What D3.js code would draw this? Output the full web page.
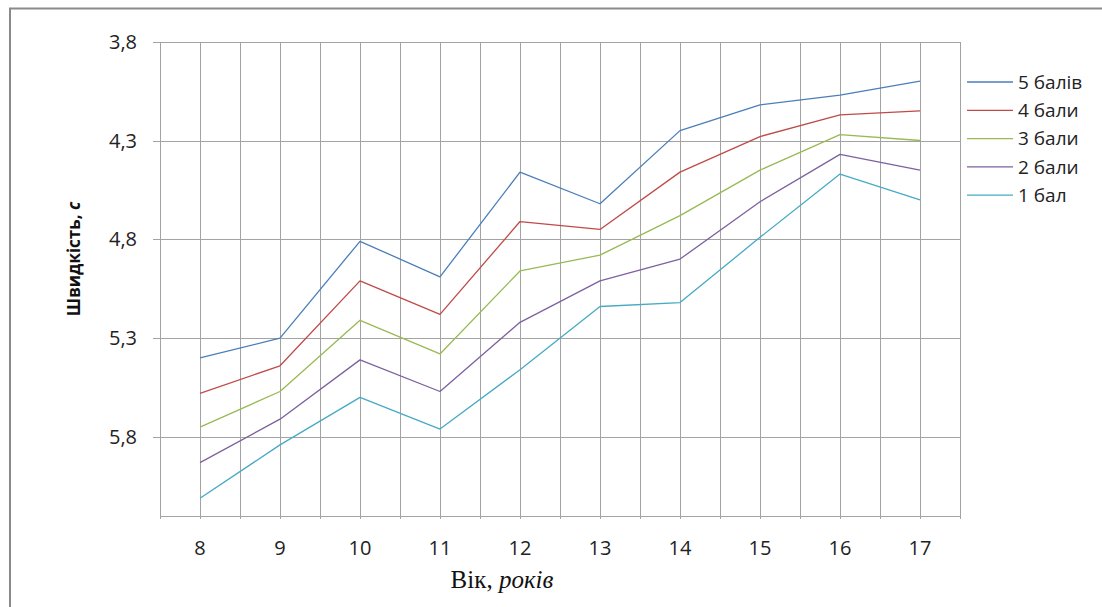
<!DOCTYPE html>
<html>
<head>
<meta charset="utf-8">
<script src="https://cdn.jsdelivr.net/npm/d3@7/dist/d3.min.js"></script>
<style>
  html, body { margin: 0; padding: 0; background: #fff; }
  svg { display: block; }
</style>
</head>
<body>
<svg id="chart" width="1102" height="607"></svg>
<script>
// Age groups (years)
const ages = ["8", "9", "10", "11", "12", "13", "14", "15", "16", "17"];

// Running time (s) by score level
const score5 = [5.40, 5.30, 4.81, 4.99, 4.46, 4.62, 4.25, 4.12, 4.07, 4.00];
const score4 = [5.58, 5.44, 5.01, 5.18, 4.71, 4.75, 4.46, 4.28, 4.17, 4.15];
const score3 = [5.75, 5.57, 5.21, 5.38, 4.96, 4.88, 4.68, 4.45, 4.27, 4.30];
const score2 = [5.93, 5.71, 5.41, 5.57, 5.22, 5.01, 4.90, 4.61, 4.37, 4.45];
const score1 = [6.11, 5.84, 5.60, 5.76, 5.46, 5.14, 5.12, 4.79, 4.47, 4.60];

const seriesNames = ["5 балів", "4 бали", "3 бали", "2 бали", "1 бал"];
const seriesColors = ["#4A7EBB", "#BE4B48", "#98B954", "#7D60A0", "#46AAC5"];

// Y axis (reversed: faster times on top)
const yMin = 3.8, yMax = 6.2;
const yTicks = [3.8, 4.3, 4.8, 5.3, 5.8];

const series = [score5, score4, score3, score2, score1].map((vals, i) => ({
  name: seriesNames[i],
  color: seriesColors[i],
  values: vals
}));

const svg = d3.select("#chart");
const plot = { left: 160, right: 960, top: 41.7, bottom: 516 };
const gridColor = "#a3a3a3";

// Outer chart frame
svg.append("rect")
  .attr("x", 10).attr("y", 8.5)
  .attr("width", 1200).attr("height", 700)
  .attr("fill", "#fff")
  .attr("stroke", "#8a8a8a")
  .attr("stroke-width", 2);

const x = d3.scaleBand().domain(ages).range([plot.left, plot.right]).paddingInner(0).paddingOuter(0);
const xc = d => x(d) + x.bandwidth() / 2;
const y = d3.scaleLinear().domain([yMin, yMax]).range([plot.top, plot.bottom]);

const fmt = d3.formatLocale({ decimal: ",", thousands: " ", grouping: [3], currency: ["", ""] }).format(".1f");

// Vertical gridlines: category boundaries and centres
const vLines = [];
ages.forEach(a => { vLines.push(x(a)); vLines.push(xc(a)); });
vLines.push(plot.right);

const grid = svg.append("g").attr("shape-rendering", "crispEdges");
grid.selectAll("line.v").data(vLines).join("line")
  .attr("class", "v")
  .attr("x1", d => Math.round(d) + 0.5).attr("x2", d => Math.round(d) + 0.5)
  .attr("y1", plot.top).attr("y2", plot.bottom + 3)
  .attr("stroke", gridColor).attr("stroke-width", 1);

// Horizontal gridlines with outer ticks
grid.selectAll("line.h").data(yTicks).join("line")
  .attr("class", "h")
  .attr("x1", plot.left - 7).attr("x2", plot.right)
  .attr("y1", d => Math.round(y(d)) + 0.5).attr("y2", d => Math.round(y(d)) + 0.5)
  .attr("stroke", gridColor).attr("stroke-width", 1);

// Bottom axis line
grid.append("line")
  .attr("x1", plot.left).attr("x2", plot.right)
  .attr("y1", Math.round(plot.bottom) + 0.5).attr("y2", Math.round(plot.bottom) + 0.5)
  .attr("stroke", gridColor).attr("stroke-width", 1.3);

// Y tick labels
svg.append("g").selectAll("text").data(yTicks).join("text")
  .attr("x", 137).attr("y", d => y(d))
  .attr("dy", "0.35em")
  .attr("text-anchor", "end")
  .attr("font-family", "Open Sans, sans-serif")
  .attr("font-size", 20)
  .attr("fill", "#222")
  .text(d => fmt(d));

// X tick labels
svg.append("g").selectAll("text").data(ages).join("text")
  .attr("x", d => xc(d)).attr("y", 555)
  .attr("text-anchor", "middle")
  .attr("font-family", "Open Sans, sans-serif")
  .attr("font-size", 20)
  .attr("fill", "#222")
  .text(d => d);

// Series lines
const line = d3.line().x((d, i) => xc(ages[i])).y(d => y(d));
svg.append("g").selectAll("path").data(series).join("path")
  .attr("d", s => line(s.values))
  .attr("fill", "none")
  .attr("stroke", s => s.color)
  .attr("stroke-width", 1.3)
  .attr("stroke-linejoin", "round");

// Legend
const legend = svg.append("g").selectAll("g").data(series).join("g")
  .attr("transform", (s, i) => `translate(967, ${82 + i * 28.3})`);
legend.append("line")
  .attr("x1", 0).attr("x2", 46)
  .attr("stroke", s => s.color).attr("stroke-width", 1.3);
legend.append("text")
  .attr("x", 51).attr("dy", "0.35em")
  .attr("font-family", "Open Sans, sans-serif")
  .attr("font-size", 19)
  .attr("fill", "#222")
  .text(s => s.name);

// Y axis title
const yTitle = svg.append("text")
  .attr("transform", "translate(80, 259) rotate(-90)")
  .attr("text-anchor", "middle")
  .attr("font-family", "Open Sans, sans-serif")
  .attr("font-size", 17)
  .attr("font-weight", "bold")
  .attr("fill", "#111");
yTitle.append("tspan").text("Швидкість, ");
yTitle.append("tspan").attr("font-style", "italic").text("с");

// X axis title
const xTitle = svg.append("text")
  .attr("x", 502).attr("y", 588)
  .attr("text-anchor", "middle")
  .attr("font-family", "Liberation Serif, Times New Roman, serif")
  .attr("font-size", 25)
  .attr("fill", "#111");
xTitle.append("tspan").text("Вік, ");
xTitle.append("tspan").attr("font-style", "italic").text("років");
</script>
</body>
</html>
